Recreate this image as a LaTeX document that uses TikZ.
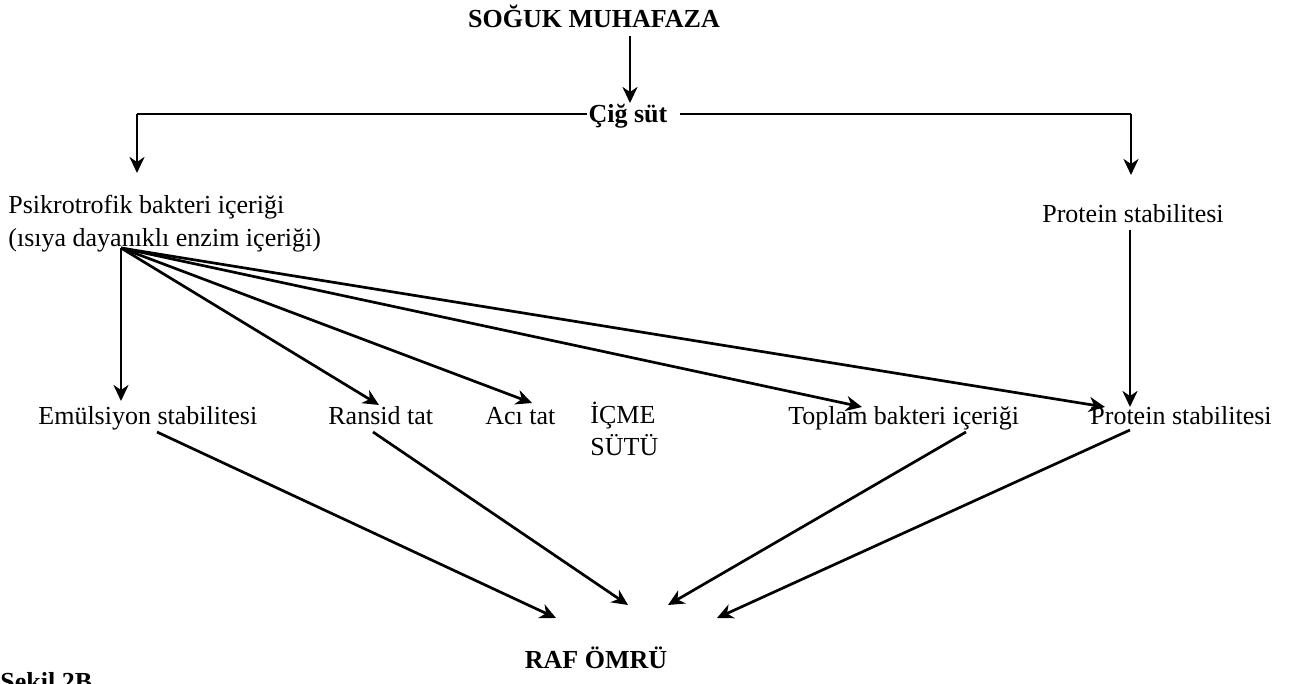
\documentclass[tikz,border=0pt]{standalone}
\usepackage{fontspec}
\setmainfont{Liberation Serif}
\usetikzlibrary{arrows.meta}
\begin{document}
\begin{tikzpicture}[x=0.5pt,y=-0.5pt,
  lbl/.style={inner sep=0pt, font=\fontsize{13}{16.5}\selectfont},
  bold/.style={inner sep=0pt, font=\fontsize{13}{16.5}\selectfont\bfseries},
  conn/.style={line width=1.35pt, -{Stealth[length=8pt,width=7.5pt,inset=2.5pt]}},
  plain/.style={line width=1.35pt}]
\useasboundingbox (0,0) rectangle (1308,684);
% nodes
\node[bold, anchor=base] (soguk) at (594,28) {SOĞUK MUHAFAZA};
\node[bold, anchor=base] (cig) at (628,123) {Çiğ süt};
\node[lbl, anchor=base west, align=left] (psik) at (8,247) {Psikrotrofik bakteri içeriği\\(ısıya dayanıklı enzim içeriği)};
\node[lbl, anchor=base] (prot1) at (1133,223) {Protein stabilitesi};
\node[lbl, anchor=base west] (emul) at (38,425) {Emülsiyon stabilitesi};
\node[lbl, anchor=base west] (ransid) at (328,425) {Ransid tat};
\node[lbl, anchor=base west] (aci) at (485,425) {Acı tat};
\node[lbl, anchor=base west, align=left] (icme) at (590,456) {İÇME\\SÜTÜ};
\node[lbl, anchor=base west] (toplam) at (788,425) {Toplam bakteri içeriği};
\node[lbl, anchor=base west] (prot2) at (1090,425) {Protein stabilitesi};
\node[bold, anchor=base] (raf) at (596,668) {RAF ÖMRÜ};
\node[bold, anchor=base west] (sekil) at (0,690) {Şekil 2B};
% coordinates
\coordinate (sgtop) at (630,36);
\coordinate (sgtip) at (630,103);
\coordinate (cigL) at (587,114);
\coordinate (cigR) at (680,114);
\coordinate (lcorner) at (137,114);
\coordinate (rcorner) at (1131,114);
\coordinate (ltip) at (137,173);
\coordinate (rtip) at (1131,175);
\coordinate (fan) at (121,248);
\coordinate (tEmul) at (121,401);
\coordinate (tRansid) at (379,405);
\coordinate (tAci) at (532,403);
\coordinate (tToplam) at (862,407);
\coordinate (tProt) at (1105,407);
\coordinate (p1bot) at (1130,230);
\coordinate (tProtV) at (1130,407);
\coordinate (sEmul) at (157,432);
\coordinate (sRansid) at (373,432);
\coordinate (sToplam) at (966,432);
\coordinate (sProt) at (1130,430);
\coordinate (rEmul) at (556,618);
\coordinate (rRansid) at (628,605);
\coordinate (rToplam) at (668,605);
\coordinate (rProt) at (717,618);
% connectors
\draw[conn] (sgtop) -- (sgtip);
\draw[plain] (cigL) -- (lcorner);
\draw[conn] (lcorner) -- (ltip);
\draw[plain] (cigR) -- (rcorner);
\draw[conn] (rcorner) -- (rtip);
\draw[conn] (fan) -- (tEmul);
\draw[conn] (fan) -- (tRansid);
\draw[conn] (fan) -- (tAci);
\draw[conn] (fan) -- (tToplam);
\draw[conn] (fan) -- (tProt);
\draw[conn] (p1bot) -- (tProtV);
\draw[conn] (sEmul) -- (rEmul);
\draw[conn] (sRansid) -- (rRansid);
\draw[conn] (sToplam) -- (rToplam);
\draw[conn] (sProt) -- (rProt);
\end{tikzpicture}
\end{document}
